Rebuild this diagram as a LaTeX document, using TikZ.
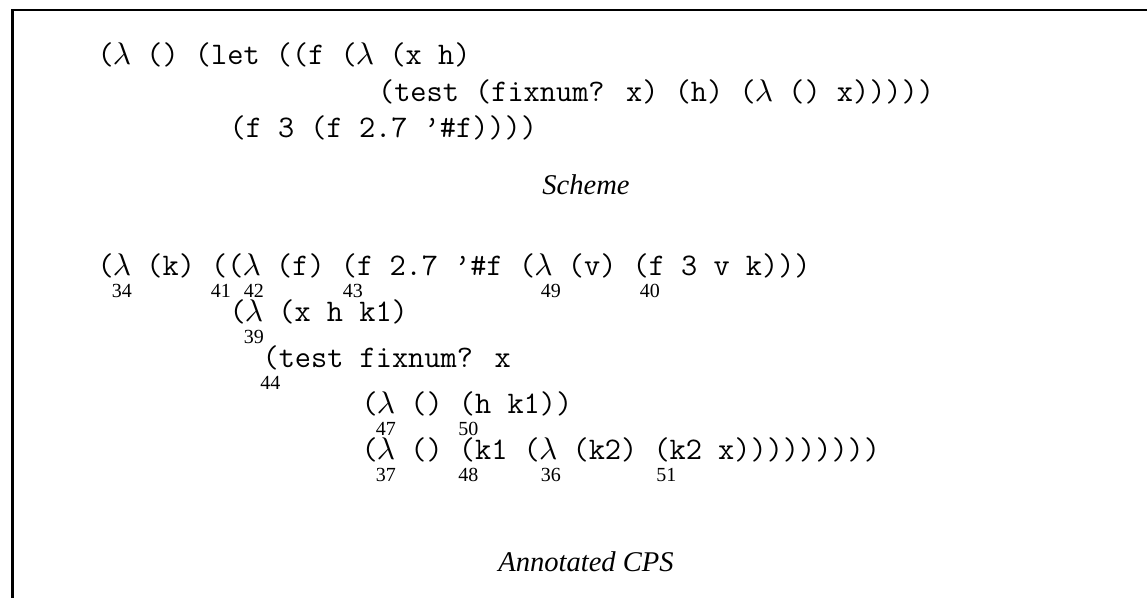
\documentclass[tikz,border=0pt]{standalone}
\usepackage{fontspec}
\newfontfamily\timesfont{Liberation Serif}
\newcommand{\lam}{\makebox[0.525em]{$\lambda$}}
\newcommand{\colx}[1]{97+16.5*#1}
\tikzset{
  code/.style={anchor=base west, inner sep=0pt, font=\fontsize{11}{13}\selectfont\ttfamily},
  num/.style={anchor=base, inner sep=0pt, font=\fontsize{7}{8}\selectfont\timesfont},
  caption/.style={anchor=base, inner sep=0pt, font=\fontsize{10}{12}\selectfont\timesfont\itshape},
}

\begin{document}
\begin{tikzpicture}[x=0.35pt, y=-0.35pt]
      \useasboundingbox (0,0) rectangle (1147,598);
      \draw [line width=0.95pt] (12.5,640) -- (12.5,10) -- (1180,10);
      % Scheme
      \node [code] (s1) at ({\colx{0}},65) {(\lam{} () (let ((f (\lam{} (x h)};
      \node [code] (s2) at ({\colx{17}},102) {(test (fixnum? x) (h) (\lam{} () x)))))};
      \node [code] (s3) at ({\colx{8}},138) {(f 3 (f 2.7 ’\#f))))};
      \node [caption] (scheme) at (586,195) {Scheme};
      % annotated CPS
      \node [code] (c1) at ({\colx{0}},276) {(\lam{} (k) ((\lam{} (f) (f 2.7 ’\#f (\lam{} (v) (f 3 v k)))};
      \node [code] (c2) at ({\colx{8}},322) {(\lam{} (x h k1)};
      \node [code] (c3) at ({\colx{10}},368) {(test fixnum? x};
      \node [code] (c4) at ({\colx{16}},414) {(\lam{} () (h k1))};
      \node [code] (c5) at ({\colx{16}},460) {(\lam{} () (k1 (\lam{} (k2) (k2 x)))))))))};
      \node [num] (n34) at ({\colx{1.5}},298) {34};
      \node [num] (n41) at ({\colx{7.5}},298) {41};
      \node [num] (n42) at ({\colx{9.5}},298) {42};
      \node [num] (n43) at ({\colx{15.5}},298) {43};
      \node [num] (n49) at ({\colx{27.5}},298) {49};
      \node [num] (n40) at ({\colx{33.5}},298) {40};
      \node [num] (n39) at ({\colx{9.5}},344) {39};
      \node [num] (n44) at ({\colx{10.5}},390) {44};
      \node [num] (n47) at ({\colx{17.5}},436) {47};
      \node [num] (n50) at ({\colx{22.5}},436) {50};
      \node [num] (n37) at ({\colx{17.5}},482) {37};
      \node [num] (n48) at ({\colx{22.5}},482) {48};
      \node [num] (n36) at ({\colx{27.5}},482) {36};
      \node [num] (n51) at ({\colx{34.5}},482) {51};
      \node [caption] (cps) at (586,572) {Annotated CPS};
    \end{tikzpicture}
\end{document}
